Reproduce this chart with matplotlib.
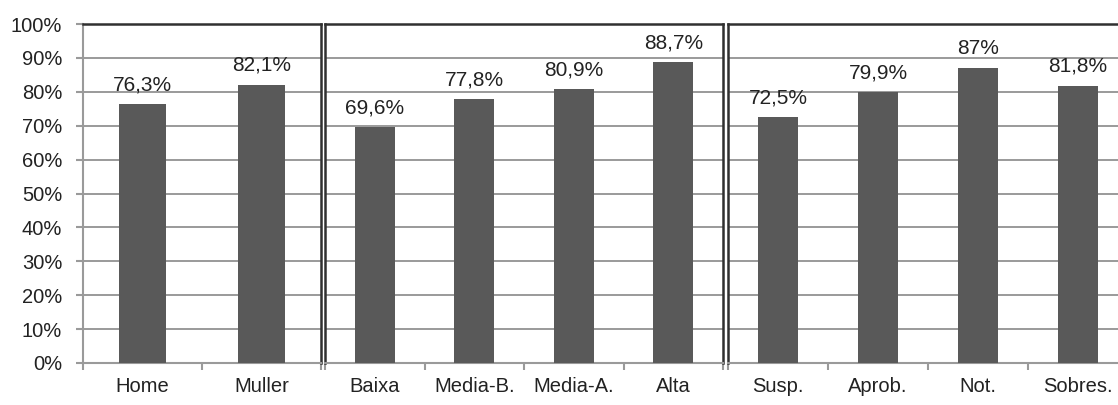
import matplotlib
matplotlib.use("Agg")
from matplotlib import pyplot as plt

plt.rcParams['font.family'] = ['Liberation Sans', 'DejaVu Sans']

# three groups of categories and their percentages
sexe = ['Home', 'Muller']
sexe_vals = [76.3, 82.1]

nivell = ['Baixa', 'Media-B.', 'Media-A.', 'Alta']
nivell_vals = [69.6, 77.8, 80.9, 88.7]

nota = ['Susp.', 'Aprob.', 'Not.', 'Sobres.']
nota_vals = [72.5, 79.9, 87, 81.8]

groups = [(sexe, sexe_vals), (nivell, nivell_vals), (nota, nota_vals)]

W, H = 1118, 405
fig = plt.figure(figsize=(W / 100, H / 100), dpi=100)

# pixel extents of each boxed panel (left, right)
extents = [(83, 321), (325, 723), (728, 1128)]
y_top, y_bot = 24, 363

bar_color = '#595959'
grid_color = '#9a9a9a'
frame_color = '#303030'
text_color = '#222222'

for i, ((cats, vals), (x0, x1)) in enumerate(zip(groups, extents)):
    ax = fig.add_axes([x0 / W, (H - y_bot) / H, (x1 - x0) / W, (y_bot - y_top) / H])
    n = len(cats)
    xs = list(range(n))
    ax.bar(xs, vals, width=0.4, color=bar_color, zorder=3)
    for x, v in zip(xs, vals):
        lab = ('%g' % v).replace('.', ',') + '%'
        ax.annotate(lab, (x, v), xytext=(0, 7), textcoords='offset points',
                    ha='center', va='bottom', fontsize=15, color=text_color)

    ax.set_xlim(-0.5, n - 0.5)
    ax.set_ylim(0, 100)
    ax.set_yticks(range(0, 101, 10))
    ax.yaxis.grid(True, color=grid_color, linewidth=1.4, zorder=0)

    ax.set_xticks(xs)
    ax.set_xticklabels(cats, fontsize=14.5, color=text_color)
    ax.set_xticks([k - 0.5 for k in range(n + 1)], minor=True)
    ax.tick_params(axis='x', which='major', length=0, pad=10)
    ax.tick_params(axis='x', which='minor', length=5, width=1.5, color=grid_color, direction='out')

    if i == 0:
        ax.set_yticklabels(['%d%%' % t for t in range(0, 101, 10)], fontsize=14.5, color=text_color)
        ax.tick_params(axis='y', length=5, width=1.5, color=grid_color, pad=10)
        ax.spines['left'].set_color(grid_color)
        ax.spines['left'].set_linewidth(1.5)
    else:
        ax.tick_params(axis='y', length=0, labelleft=False)
        ax.spines['left'].set_color(frame_color)
        ax.spines['left'].set_linewidth(1.8)

    ax.spines['bottom'].set_color(grid_color)
    ax.spines['bottom'].set_linewidth(1.5)
    for s in ['top', 'right']:
        ax.spines[s].set_color(frame_color)
        ax.spines[s].set_linewidth(1.8)

fig.savefig('out.png', dpi=100)
